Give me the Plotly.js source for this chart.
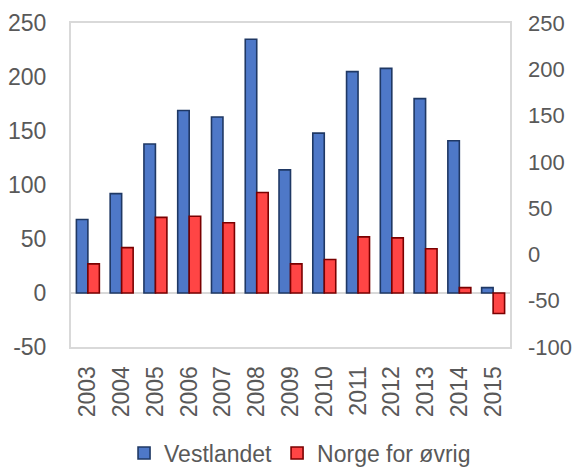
<!DOCTYPE html>
<html>
<head>
<meta charset="utf-8">
<script src="https://cdn.plot.ly/plotly-3.0.1.min.js"></script>
<style>html,body{margin:0;padding:0;background:#fff;}#chart{width:577px;height:467px;}</style>
</head>
<body>
<div id="chart"></div>
<script>
const years = ["2003","2004","2005","2006","2007","2008","2009","2010","2011","2012","2013","2014","2015"];
const vestlandet = [68, 92, 138, 169, 163, 235, 114, 148, 205, 208, 180, 141, 5];
const norgeForOvrig = [27, 42, 70, 71, 65, 93, 27, 31, 52, 51, 41, 5, -19];
const leftTicks = [-50, 0, 50, 100, 150, 200, 250];
const leftLabels = ["-50", "0", "50", "100", "150", "200", "250"];
const rightTicks = [-100, -50, 0, 50, 100, 150, 200, 250];
const rightLabels = ["-100", "-50", "0", "50", "100", "150", "200", "250"];

const fontFam = 'Liberation Sans, Arial, sans-serif';
const txtColor = '#595959';

const traces = [
  {type:'bar', name:'Vestlandet', x:years, y:vestlandet,
   marker:{color:'#4e78c8', line:{color:'#1f3864', width:1.6}}},
  {type:'bar', name:'Norge for øvrig', x:years, y:norgeForOvrig,
   marker:{color:'#ff4545', line:{color:'#7a0000', width:1.6}}},
  {type:'scatter', x:[], y:[], yaxis:'y2', showlegend:false, hoverinfo:'skip'}
];

const layout = {
  width:577, height:467,
  margin:{l:71, r:67, t:23, b:120},
  paper_bgcolor:'#fff', plot_bgcolor:'#fff',
  font:{family:fontFam, size:23, color:txtColor},
  barmode:'group', bargap:0.32, bargroupgap:0,
  showlegend:true,
  legend:{orientation:'h', xref:'container', x:0.52, xanchor:'center',
          yref:'container', y:0.03, yanchor:'middle',
          font:{family:fontFam, size:23, color:txtColor}},
  xaxis:{type:'category', tickangle:-90, showgrid:false, zeroline:false,
         showline:true, mirror:true, linecolor:'#d9d9d9', linewidth:2,
         ticks:'', ticklabelstandoff:8,
         tickfont:{family:fontFam, size:23, color:txtColor}},
  yaxis:{range:[-50,250], tickvals:leftTicks, ticktext:leftLabels, showgrid:false,
         zeroline:true, zerolinecolor:'#d9d9d9', zerolinewidth:2,
         showline:true, mirror:true, linecolor:'#d9d9d9', linewidth:2,
         ticks:'', ticklabelstandoff:18,
         tickfont:{family:fontFam, size:23, color:txtColor}},
  yaxis2:{range:[-100,250], tickvals:rightTicks, ticktext:rightLabels, overlaying:'y', side:'right',
          showgrid:false, zeroline:false, showline:false, ticks:'',
          ticklabelstandoff:17,
          tickfont:{family:fontFam, size:22, color:txtColor}}
};

Plotly.newPlot('chart', traces, layout, {displayModeBar:false, staticPlot:true});
</script>
</body>
</html>
